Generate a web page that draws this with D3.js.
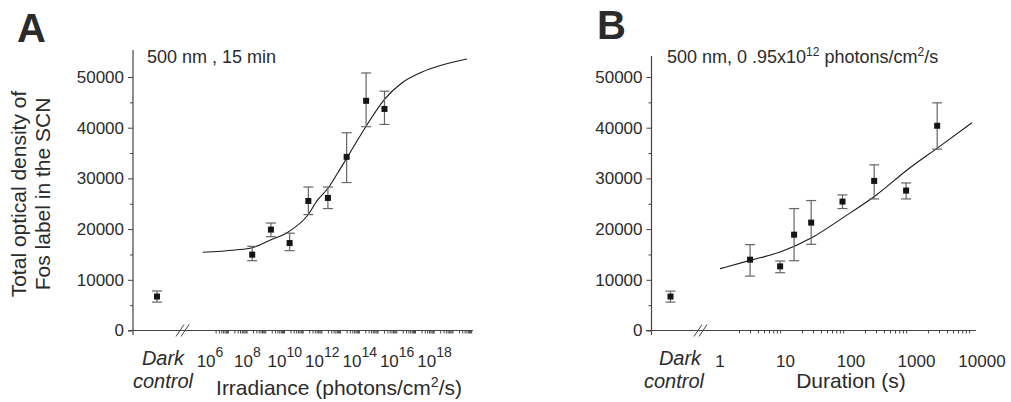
<!DOCTYPE html>
<html>
<head>
<meta charset="utf-8">
<script src="https://cdn.jsdelivr.net/npm/d3@7"></script>
<style>
body { margin: 0; background: #fff; }
text { font-family: "Liberation Sans", Arial, sans-serif; fill: #2b2b2b; }
</style>
</head>
<body>
<div id="chart"></div>
<script>
// Panel A: Fos vs irradiance (500 nm, 15 min)
var irradianceA = [1.8e8, 1.8e9, 1.8e10, 1.8e11, 2e12, 2e13, 2.2e14, 2.1e15];
var fosA = [14960, 19900, 17250, 25550, 26150, 34250, 45300, 43700];
var fosHighA = [16600, 21200, 19200, 28300, 28300, 39000, 50800, 47200];
var fosLowA = [13770, 18500, 15750, 22860, 24050, 29180, 40200, 40650];
var darkA = [6700, 7800, 5600]; // mean, top, bottom

// fitted curve
var fitIrrA = [4.1e5, 2.2e7, 1.8e8, 1.7e9, 1.6e10, 1.7e11, 5.5e11, 2e12, 6.5e12, 2e13, 2.2e14, 2.1e15, 1.7e16, 2e17, 2.5e18, 5.4e19];
var fitFosA = [15420, 15880, 16330, 17850, 19490, 22780, 25700, 28050, 31000, 33960, 40300, 45600, 48760, 50930, 52370, 53550];

// Panel B: Fos vs duration (500 nm, 0.95x10^12 photons/cm2/s)
var durationB = [3, 9, 15, 28, 88, 280, 900, 2800];
var fosB = [13970, 12650, 18900, 21280, 25430, 29500, 27600, 40380];
var fosHighB = [16940, 13700, 24050, 25630, 26740, 32670, 29100, 44900];
var fosLowB = [10730, 11400, 13770, 17000, 24050, 25950, 25950, 35770];
var darkB = [6700, 7770, 5600];

var fitDurB = [1, 3, 9, 30, 90, 300, 1000, 3000, 10000];
var fitFosB = [12200, 13830, 15470, 18440, 22270, 26680, 31950, 36220, 41000];

// tick labels
var yTicks = [0, 10000, 20000, 30000, 40000, 50000];
var yMinor = [5000, 15000, 25000, 35000, 45000];
var irrExpLabels = [6, 8, 10, 12, 14, 16, 18];
var durLabels = ["1", "10", "100", "1000", "10000"];
var durTicks = [1, 10, 100, 1000, 10000];

var svg = d3.select("#chart").append("svg")
  .attr("width", 1011)
  .attr("height", 402);

var y = d3.scaleLinear().domain([0, 50000]).range([330.5, 77]);

var axisColor = "#444";

function drawYAxis(x0, top) {
  var g = svg.append("g").attr("transform", `translate(${x0},0)`);
  g.call(d3.axisLeft(y).tickValues(yTicks).tickSize(5).tickPadding(4).tickFormat(d3.format("d")))
    .call(a => a.select(".domain").remove());
  g.selectAll("text").attr("font-size", 17).attr("font-family", null);
  g.selectAll("line").attr("stroke", axisColor);
  var m = svg.append("g").attr("transform", `translate(${x0},0)`);
  m.call(d3.axisLeft(y).tickValues(yMinor).tickSize(3).tickFormat(""))
    .call(a => a.select(".domain").remove());
  m.selectAll("line").attr("stroke", axisColor);
  svg.append("line")
    .attr("x1", x0).attr("x2", x0)
    .attr("y1", top).attr("y2", 335)
    .attr("stroke", axisColor).attr("stroke-width", 1.2);
}

function drawXLine(x1, x2, brk) {
  svg.append("line")
    .attr("x1", x1).attr("x2", x2)
    .attr("y1", y(0)).attr("y2", y(0))
    .attr("stroke", axisColor).attr("stroke-width", 1.2);
  // axis break marks
  [0, 5].forEach(function(o) {
    svg.append("line")
      .attr("x1", brk - 6 + o).attr("y1", y(0) + 6)
      .attr("x2", brk + 2 + o).attr("y2", y(0) - 6)
      .attr("stroke", axisColor).attr("stroke-width", 1);
  });
}

function logMinor(lo, hi) {
  var out = [];
  for (var e = lo; e < hi; e++) {
    for (var k = 2; k <= 9; k++) out.push(k * Math.pow(10, e));
  }
  return out;
}

function drawPoints(x, xs, ys, hi, lo) {
  var g = svg.append("g");
  var pts = xs.map((d, i) => ({x: d, y: ys[i], hi: hi[i], lo: lo[i]}));
  g.selectAll(".err").data(pts).enter().append("line")
    .attr("x1", d => x(d.x)).attr("x2", d => x(d.x))
    .attr("y1", d => y(d.hi)).attr("y2", d => y(d.lo))
    .attr("stroke", "#666").attr("stroke-width", 1.2);
  ["hi", "lo"].forEach(function(k) {
    g.selectAll(".cap" + k).data(pts).enter().append("line")
      .attr("x1", d => x(d.x) - 5).attr("x2", d => x(d.x) + 5)
      .attr("y1", d => y(d[k])).attr("y2", d => y(d[k]))
      .attr("stroke", "#666").attr("stroke-width", 1.2);
  });
  g.selectAll("rect").data(pts).enter().append("rect")
    .attr("x", d => x(d.x) - 3).attr("y", d => y(d.y) - 3)
    .attr("width", 6).attr("height", 6)
    .attr("fill", "#151515");
}

function drawCurve(x, xs, ys) {
  var line = d3.line()
    .x(d => x(d[0]))
    .y(d => y(d[1]))
    .curve(d3.curveMonotoneX);
  svg.append("path")
    .datum(xs.map((d, i) => [d, ys[i]]))
    .attr("d", line)
    .attr("fill", "none")
    .attr("stroke", "#1a1a1a")
    .attr("stroke-width", 1.1);
}

// ---------- Panel A ----------
var xA = d3.scaleLog().domain([1e6, 1e20]).range([210, 472]);
var darkXA = d3.scalePoint().domain(["dark"]).range([157, 157]);

drawYAxis(133, 50);
drawXLine(128, 473, 182);

var gxa = svg.append("g").attr("transform", `translate(0,${y(0)})`);
gxa.call(d3.axisBottom(xA).tickValues(d3.range(6, 21).map(e => Math.pow(10, e))).tickSize(5).tickFormat(""))
  .call(a => a.select(".domain").remove());
gxa.call(d3.axisBottom(xA).tickValues(logMinor(6, 20)).tickSize(3).tickFormat(""))
  .call(a => a.select(".domain").remove());
gxa.selectAll("line").attr("stroke", axisColor);

irrExpLabels.forEach(function(e) {
  var t = svg.append("text")
    .attr("x", xA(Math.pow(10, e)))
    .attr("y", 367)
    .attr("text-anchor", "middle")
    .attr("font-size", 17);
  t.append("tspan").text("10");
  t.append("tspan").attr("dy", -10).attr("font-size", 14).text(e);
});

svg.append("text").attr("x", 163).attr("y", 365).attr("text-anchor", "middle")
  .attr("font-size", 20).attr("font-style", "italic").text("Dark");
svg.append("text").attr("x", 163).attr("y", 388).attr("text-anchor", "middle")
  .attr("font-size", 20).attr("font-style", "italic").text("control");

var irrLabel = svg.append("text").attr("x", 339).attr("y", 395)
  .attr("text-anchor", "middle").attr("font-size", 21);
irrLabel.append("tspan").text("Irradiance (photons/cm");
irrLabel.append("tspan").attr("dy", -8).attr("font-size", 14).text("2");
irrLabel.append("tspan").attr("dy", 8).text("/s)");

drawCurve(xA, fitIrrA, fitFosA);
drawPoints(xA, irradianceA, fosA, fosHighA, fosLowA);
drawPoints(darkXA, ["dark"], [darkA[0]], [darkA[1]], [darkA[2]]);

svg.append("text").attr("x", 147).attr("y", 63).attr("font-size", 18)
  .text("500 nm , 15 min");
svg.append("text").attr("x", 17).attr("y", 42).attr("font-size", 40)
  .attr("font-weight", "bold").text("A");

// y title
var yt = svg.append("text")
  .attr("transform", "translate(26,194) rotate(-90)")
  .attr("text-anchor", "middle").attr("font-size", 21);
yt.append("tspan").attr("x", 0).attr("y", 0).text("Total optical density of");
yt.append("tspan").attr("x", 0).attr("y", 24).text("Fos label in the SCN");

// ---------- Panel B ----------
var xB = d3.scaleLog().domain([1, 10000]).range([720, 972]);
var darkXB = d3.scalePoint().domain(["dark"]).range([670.5, 670.5]);

drawYAxis(651.5, 56);
drawXLine(646, 976, 700);

var gxb = svg.append("g").attr("transform", `translate(0,${y(0)})`);
gxb.call(d3.axisBottom(xB).tickValues(durTicks).tickSize(5).tickFormat(""))
  .call(a => a.select(".domain").remove());
gxb.call(d3.axisBottom(xB).tickValues(logMinor(0, 4)).tickSize(3).tickFormat(""))
  .call(a => a.select(".domain").remove());
gxb.selectAll("line").attr("stroke", axisColor);

durTicks.forEach(function(d, i) {
  svg.append("text")
    .attr("x", xB(d) + i * 2.5)
    .attr("y", 367)
    .attr("text-anchor", "middle")
    .attr("font-size", 17)
    .text(durLabels[i]);
});

svg.append("text").attr("x", 680).attr("y", 365).attr("text-anchor", "middle")
  .attr("font-size", 20).attr("font-style", "italic").text("Dark");
svg.append("text").attr("x", 674).attr("y", 388).attr("text-anchor", "middle")
  .attr("font-size", 20).attr("font-style", "italic").text("control");

svg.append("text").attr("x", 851).attr("y", 388)
  .attr("text-anchor", "middle").attr("font-size", 21).text("Duration (s)");

drawCurve(xB, fitDurB, fitFosB);
drawPoints(xB, durationB, fosB, fosHighB, fosLowB);
drawPoints(darkXB, ["dark"], [darkB[0]], [darkB[1]], [darkB[2]]);

var sub = svg.append("text").attr("x", 667).attr("y", 63).attr("font-size", 18);
sub.append("tspan").text("500 nm, 0 .95x10");
sub.append("tspan").attr("dy", -7).attr("font-size", 12).text("12");
sub.append("tspan").attr("dy", 7).text("  photons/cm");
sub.append("tspan").attr("dy", -7).attr("font-size", 12).text("2");
sub.append("tspan").attr("dy", 7).text("/s");
svg.append("text").attr("x", 597).attr("y", 39).attr("font-size", 40)
  .attr("font-weight", "bold").text("B");
</script>
</body>
</html>
